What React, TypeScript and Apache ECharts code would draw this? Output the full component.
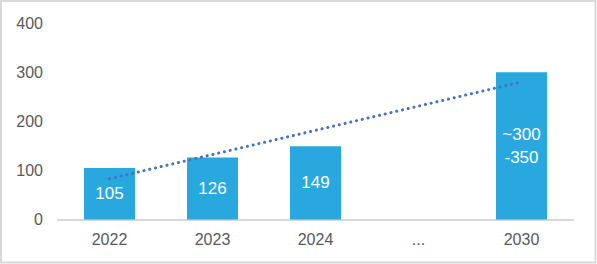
import React, { useEffect, useRef } from "react";
import * as echarts from "echarts";

const categories = ["2022", "2023", "2024", "...", "2030"];
const barValues: (number | null)[] = [105, 126, 149, null, 300];
const barLabels = ["105", "126", "149", "", "~300\n-350"];
const trendValues: (number | null)[] = [83, null, null, null, 280];
const yTicks = [0, 100, 200, 300, 400];

export default function App() {
  const ref = useRef<HTMLDivElement>(null);
  useEffect(() => {
    if (!ref.current) return;
    const chart = echarts.init(ref.current, undefined, { renderer: "svg" });
    const font = "'Liberation Sans', Arial, sans-serif";
    chart.setOption({
      animation: false,
      backgroundColor: "#ffffff",
      textStyle: { fontFamily: font },
      grid: { left: 58, right: 24, top: 23, bottom: 44.5 },
      graphic: [
        {
          type: "rect",
          shape: { x: 1, y: 1, width: 594.5, height: 261.5 },
          style: { fill: "none", stroke: "#d9d9d9", lineWidth: 2 },
          silent: true,
        },
      ],
      xAxis: {
        type: "category",
        data: categories,
        axisLine: { show: true, lineStyle: { color: "#d9d9d9", width: 2 } },
        axisTick: { show: false },
        axisLabel: { color: "#595959", fontSize: 16, margin: 12, fontFamily: font },
      },
      yAxis: {
        type: "value",
        min: yTicks[0],
        max: yTicks[yTicks.length - 1],
        interval: 100,
        axisLine: { show: false },
        axisTick: { show: false },
        splitLine: { show: false },
        axisLabel: { color: "#595959", fontSize: 16, margin: 15, fontFamily: font },
      },
      series: [
        {
          type: "bar",
          data: barValues.map((v, i) => ({
            value: v,
            label: { formatter: barLabels[i] },
          })),
          barWidth: 51,
          itemStyle: { color: "#29A8E0" },
          label: {
            show: true,
            position: "inside",
            color: "#ffffff",
            fontSize: 17,
            lineHeight: 23,
            fontFamily: font,
          },
        },
        {
          type: "line",
          data: trendValues,
          connectNulls: true,
          symbol: "none",
          lineStyle: {
            color: "#4472C4",
            width: 3,
            type: [0.1, 5.8],
            cap: "round",
          },
          z: 5,
        },
      ],
    });
    return () => chart.dispose();
  }, []);
  return (
    <div
      ref={ref}
      style={{ position: "fixed", left: 0, top: 0, width: 597, height: 264 }}
    />
  );
}
